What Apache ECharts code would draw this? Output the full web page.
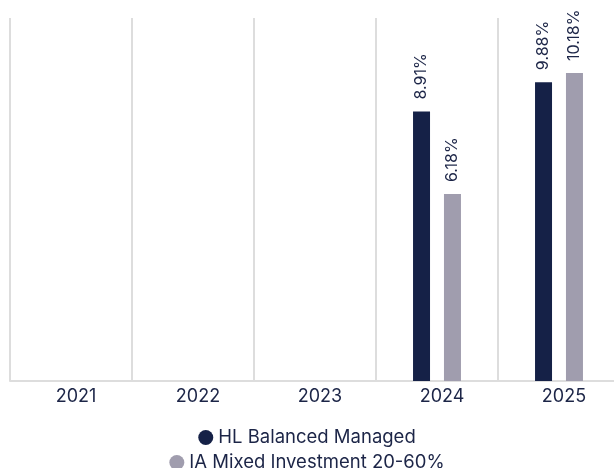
<!DOCTYPE html>
<html>
<head>
<meta charset="utf-8">
<script src="https://cdn.jsdelivr.net/npm/echarts@6/dist/echarts.min.js"></script>
<style>
  html, body { margin: 0; padding: 0; background: #fff; }
  #chart { width: 614px; height: 468px; }
</style>
</head>
<body>
<div id="chart"></div>
<script>
// years on the x axis
const years = ['2021', '2022', '2023', '2024', '2025'];
// yearly returns, % (no data before 2024)
const hlBalanced = ['-', '-', '-', 8.91, 9.88];
const iaMixed = ['-', '-', '-', 6.18, 10.18];
const seriesNames = ['HL Balanced Managed', 'IA Mixed Investment 20-60%'];

const navy = '#152147';
const grey = '#a09dae';
const textColor = '#1c2547';

const barLabel = {
  show: true,
  position: 'top',
  rotate: 90,
  align: 'left',
  verticalAlign: 'middle',
  distance: 12,
  fontFamily: 'Inter',
  fontSize: 16,
  color: textColor,
  formatter: p => p.value.toFixed(2) + '%'
};

const legendText = { fontFamily: 'Inter', fontSize: 18.5, color: textColor };

const chart = echarts.init(document.getElementById('chart'));
chart.setOption({
  animation: false,
  textStyle: { fontFamily: 'Inter' },
  grid: { left: 10, width: 610, top: 18, bottom: 87, outerBoundsMode: 'none' },
  legend: [
    {
      data: [seriesNames[0]],
      left: 'center', top: 423,
      icon: 'circle', itemWidth: 15, itemHeight: 15, itemGap: 6,
      textStyle: legendText,
      selectedMode: false
    },
    {
      data: [seriesNames[1]],
      left: 'center', top: 448,
      icon: 'circle', itemWidth: 15, itemHeight: 15,
      textStyle: legendText,
      selectedMode: false
    }
  ],
  xAxis: {
    type: 'category',
    data: years,
    axisLine: { lineStyle: { color: '#dddddd', width: 2 } },
    axisTick: { show: false },
    axisLabel: {
      margin: 7, fontSize: 18, color: textColor, fontFamily: 'Inter',
      padding: [0, 0, 0, 10]
    },
    splitLine: { show: true, lineStyle: { color: '#dddddd', width: 2 } }
  },
  yAxis: {
    type: 'value',
    min: 0, max: 12,
    show: false,
    splitLine: { show: false }
  },
  series: [
    {
      name: seriesNames[0], type: 'bar', data: hlBalanced,
      barWidth: 17, barGap: '82%',
      itemStyle: { color: navy },
      label: barLabel
    },
    {
      name: seriesNames[1], type: 'bar', data: iaMixed,
      barWidth: 17,
      itemStyle: { color: grey },
      label: barLabel
    }
  ]
});
</script>
</body>
</html>
